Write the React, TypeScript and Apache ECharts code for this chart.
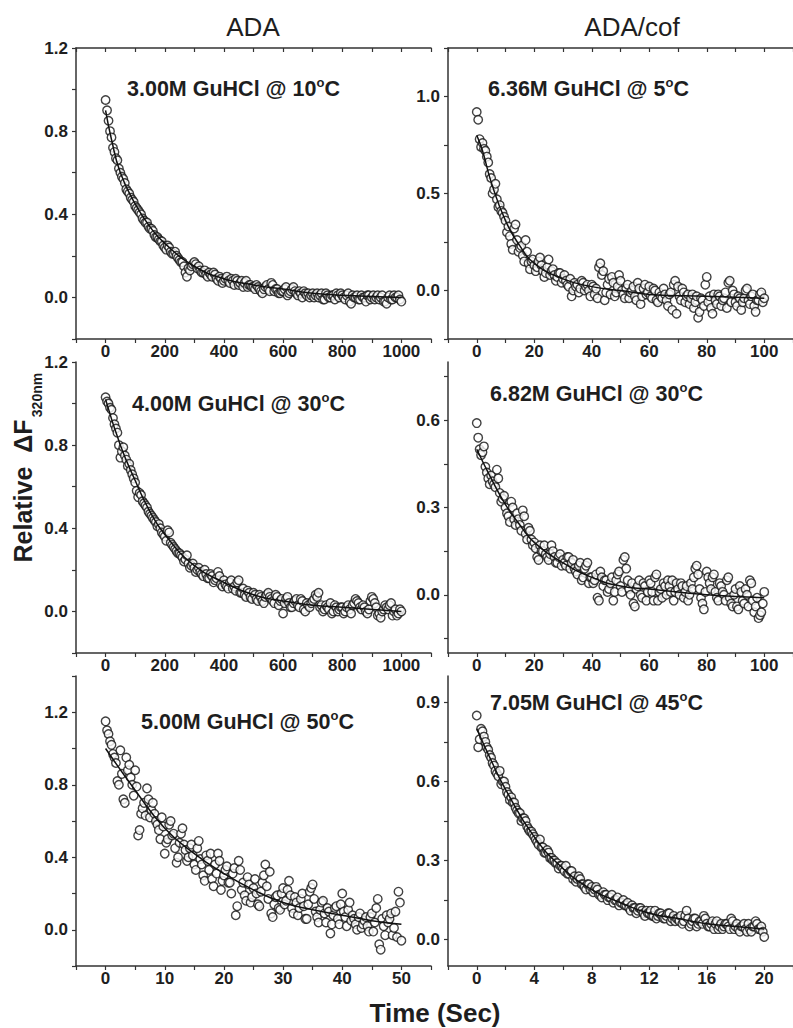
import React, { useEffect, useRef } from "react";
import * as echarts from "echarts";

// ---------------- DATA ----------------
// Each trace is read as two interleaved sample sets (t = i*step and t = (i+0.5)*step).

// Panel A: ADA, 3.00M GuHCl @ 10°C  (0..1000 s)
const adaT1Step = 10;
const adaT1 = [
  0.95, 0.85, 0.77, 0.70, 0.66, 0.60, 0.57, 0.52, 0.50, 0.47,
  0.44, 0.42, 0.40, 0.37, 0.36, 0.33, 0.32, 0.29, 0.28, 0.27,
  0.24, 0.25, 0.22, 0.21, 0.20, 0.18, 0.17, 0.12, 0.14, 0.15,
  0.17, 0.14, 0.13, 0.12, 0.11, 0.12, 0.10, 0.11, 0.08, 0.09,
  0.08, 0.10, 0.07, 0.08, 0.09, 0.06, 0.08, 0.07, 0.05, 0.06,
  0.05, 0.06, 0.04, 0.02, 0.05, 0.04, 0.07, 0.03, 0.04, 0.02,
  0.03, 0.05, 0.02, 0.04, 0.03, 0.01, 0.02, 0.03, 0.01, 0.00,
  0.02, 0.01, 0.00, 0.02, -0.01, 0.01, 0.00, 0.01, 0.02, 0.00,
  0.01, -0.01, 0.02, -0.03, 0.00, 0.01, -0.01, 0.00, -0.02, 0.01,
  0.00, -0.01, 0.01, 0.00, -0.02, -0.03, 0.01, -0.01, 0.00, 0.01,
  -0.02,
];
const adaT1b = [
  0.90, 0.80, 0.72, 0.67, 0.62, 0.58, 0.55, 0.51, 0.48, 0.46,
  0.43, 0.41, 0.38, 0.36, 0.34, 0.33, 0.30, 0.29, 0.27, 0.25,
  0.23, 0.24, 0.21, 0.22, 0.19, 0.17, 0.15, 0.10, 0.13, 0.16,
  0.16, 0.15, 0.12, 0.13, 0.10, 0.11, 0.12, 0.09, 0.10, 0.07,
  0.09, 0.08, 0.09, 0.06, 0.08, 0.07, 0.05, 0.08, 0.06, 0.05,
  0.04, 0.05, 0.03, 0.04, 0.06, 0.03, 0.06, 0.04, 0.02, 0.03,
  0.04, 0.01, 0.03, 0.05, 0.02, 0.03, 0.00, 0.02, 0.02, 0.01,
  0.00, 0.02, 0.01, -0.01, 0.02, 0.00, 0.01, -0.01, 0.01, 0.02,
  0.00, 0.01, -0.02, 0.01, 0.00, -0.01, 0.01, 0.00, 0.01, -0.01,
  0.01, 0.00, -0.01, 0.01, -0.02, 0.00, -0.01, 0.01, 0.00, -0.01,
];
const adaT1FitT = [0, 20, 50, 100, 150, 200, 300, 400, 500, 600, 700, 800, 1000];
const adaT1FitY = [0.9, 0.76, 0.6, 0.45, 0.34, 0.26, 0.15, 0.09, 0.06, 0.04, 0.02, 0.01, 0.0];

// Panel B: ADA/cof, 6.36M GuHCl @ 5°C (0..100 s)
const cofT1Step = 1;
const cofT1 = [
  0.92, 0.78, 0.76, 0.72, 0.66, 0.58, 0.52, 0.47, 0.44, 0.40,
  0.36, 0.33, 0.24, 0.32, 0.26, 0.22, 0.18, 0.26, 0.14, 0.15,
  0.13, 0.12, 0.17, 0.10, 0.09, 0.16, 0.10, 0.08, 0.07, 0.09,
  0.06, 0.05, 0.02, -0.03, 0.04, 0.03, 0.01, 0.04, 0.02, 0.00,
  0.03, -0.02, -0.04, 0.14, 0.10, -0.01, 0.06, 0.07, -0.03, 0.02,
  0.05, -0.02, 0.01, -0.04, 0.00, -0.03, 0.04, -0.07, 0.01, -0.02,
  0.02, -0.04, 0.00, -0.06, -0.03, 0.01, -0.05, -0.02, -0.10, 0.05,
  0.02, -0.05, -0.01, -0.03, -0.07, -0.02, -0.06, -0.14, -0.04, -0.08,
  0.07, -0.03, -0.12, -0.05, -0.02, -0.08, -0.04, -0.09, 0.05, 0.00,
  -0.06, -0.03, -0.10, -0.04, 0.01, -0.07, -0.02, -0.11, -0.05, -0.01,
  -0.04,
];
const cofT1b = [
  0.88, 0.74, 0.73, 0.69, 0.60, 0.50, 0.55, 0.43, 0.41, 0.38,
  0.30, 0.28, 0.21, 0.34, 0.20, 0.23, 0.15, 0.20, 0.11, 0.16,
  0.10, 0.15, 0.13, 0.07, 0.12, 0.08, 0.11, 0.05, 0.09, 0.04,
  0.08, 0.03, 0.06, 0.00, 0.02, -0.01, 0.05, 0.00, 0.03, -0.03,
  0.02, 0.01, 0.12, 0.08, -0.05, 0.03, -0.02, 0.04, -0.01, 0.08,
  0.00, -0.04, 0.03, -0.01, 0.02, -0.05, 0.01, -0.03, 0.03, -0.01,
  -0.03, 0.01, -0.05, -0.01, -0.04, -0.02, -0.08, -0.01, 0.03, -0.12,
  -0.03, 0.01, -0.06, -0.02, -0.04, -0.09, -0.03, -0.11, -0.05, 0.03,
  -0.06, -0.09, -0.02, -0.07, -0.03, -0.05, -0.01, 0.04, -0.06, -0.02,
  -0.08, -0.04, -0.06, 0.00, -0.05, -0.03, -0.08, -0.05, -0.02, -0.06,
];
const cofT1FitT = [0, 2, 5, 10, 15, 20, 30, 40, 50, 60, 80, 100];
const cofT1FitY = [0.8, 0.72, 0.56, 0.36, 0.23, 0.14, 0.06, 0.02, 0.0, -0.02, -0.03, -0.04];

// Panel C: ADA, 4.00M GuHCl @ 30°C (0..1000 s)
const adaT2Step = 10;
const adaT2 = [
  1.03, 1.00, 0.97, 0.90, 0.86, 0.74, 0.79, 0.73, 0.71, 0.66,
  0.62, 0.55, 0.56, 0.52, 0.50, 0.47, 0.45, 0.43, 0.42, 0.38,
  0.36, 0.39, 0.33, 0.31, 0.29, 0.28, 0.26, 0.25, 0.23, 0.22,
  0.21, 0.20, 0.19, 0.17, 0.18, 0.16, 0.17, 0.15, 0.19, 0.13,
  0.15, 0.12, 0.14, 0.11, 0.10, 0.15, 0.09, 0.08, 0.10, 0.07,
  0.09, 0.06, 0.08, 0.05, 0.07, 0.09, 0.06, 0.04, 0.07, 0.05,
  -0.01, 0.06, 0.04, 0.02, 0.05, 0.03, 0.06, 0.01, 0.04, 0.02,
  0.05, 0.08, 0.09, 0.03, 0.01, 0.02, 0.04, 0.00, 0.02, 0.01,
  0.02, 0.00, 0.03, -0.01, 0.04, 0.05, 0.02, 0.03, 0.00, 0.01,
  0.07, 0.04, -0.02, -0.03, 0.01, 0.02, 0.03, -0.02, 0.01, -0.01,
  0.00,
];
const adaT2b = [
  1.01, 0.98, 0.93, 0.88, 0.80, 0.77, 0.75, 0.70, 0.68, 0.64,
  0.58, 0.57, 0.53, 0.51, 0.48, 0.46, 0.44, 0.41, 0.40, 0.37,
  0.34, 0.38, 0.32, 0.30, 0.28, 0.27, 0.24, 0.27, 0.21, 0.23,
  0.19, 0.21, 0.18, 0.20, 0.16, 0.18, 0.14, 0.16, 0.17, 0.12,
  0.13, 0.11, 0.15, 0.12, 0.14, 0.09, 0.11, 0.07, 0.09, 0.06,
  0.08, 0.05, 0.07, 0.04, 0.08, 0.07, 0.05, 0.08, 0.03, 0.06,
  0.04, 0.07, 0.02, 0.04, 0.06, 0.02, 0.05, 0.00, 0.03, 0.04,
  0.06, 0.07, 0.02, 0.00, 0.03, 0.01, -0.01, 0.03, 0.00, 0.02,
  -0.01, 0.02, 0.01, 0.03, 0.06, 0.04, 0.01, 0.02, -0.01, 0.05,
  0.06, 0.02, -0.01, 0.00, 0.03, 0.01, 0.04, 0.00, -0.02, 0.01,
];
const adaT2FitT = [0, 50, 100, 150, 200, 300, 400, 500, 600, 700, 800, 1000];
const adaT2FitY = [1.02, 0.8, 0.63, 0.48, 0.37, 0.22, 0.14, 0.08, 0.05, 0.03, 0.02, 0.0];

// Panel D: ADA/cof, 6.82M GuHCl @ 30°C (0..100 s)
const cofT2Step = 1;
const cofT2 = [
  0.59, 0.50, 0.49, 0.44, 0.40, 0.41, 0.38, 0.43, 0.35, 0.33,
  0.30, 0.27, 0.32, 0.26, 0.28, 0.24, 0.29, 0.21, 0.23, 0.19,
  0.18, 0.13, 0.17, 0.15, 0.14, 0.12, 0.17, 0.13, 0.11, 0.14,
  0.12, 0.10, 0.13, 0.11, 0.09, 0.07, 0.11, 0.06, 0.10, 0.04,
  0.06, 0.05, -0.01, 0.08, 0.03, 0.05, 0.02, 0.06, 0.01, 0.07,
  0.03, 0.12, 0.09, 0.02, 0.04, -0.04, 0.03, 0.00, 0.04, -0.02,
  0.05, 0.01, 0.06, -0.02, 0.02, 0.04, 0.00, 0.03, 0.05, 0.01,
  0.02, 0.04, -0.01, 0.03, 0.00, 0.02, 0.09, 0.07, -0.01, -0.05,
  0.08, 0.04, 0.06, 0.01, -0.02, 0.03, 0.00, 0.05, -0.01, -0.04,
  0.02, -0.05, 0.01, -0.03, 0.00, 0.05, -0.02, -0.04, -0.08, -0.06,
  0.01,
];
const cofT2b = [
  0.54, 0.48, 0.51, 0.42, 0.38, 0.39, 0.37, 0.40, 0.32, 0.34,
  0.28, 0.25, 0.30, 0.24, 0.26, 0.22, 0.27, 0.19, 0.22, 0.17,
  0.16, 0.12, 0.15, 0.17, 0.13, 0.14, 0.15, 0.11, 0.13, 0.10,
  0.11, 0.13, 0.09, 0.12, 0.08, 0.10, 0.05, 0.09, 0.11, 0.06,
  0.04, 0.07, -0.02, 0.06, 0.05, 0.01, 0.04, -0.02, 0.05, 0.08,
  0.01, 0.13, 0.05, 0.00, -0.03, 0.02, 0.05, -0.01, 0.03, 0.01,
  0.04, -0.02, 0.07, 0.01, -0.01, 0.03, 0.05, 0.01, -0.02, 0.04,
  0.00, 0.03, 0.01, -0.02, 0.04, 0.06, 0.10, 0.02, -0.03, 0.01,
  0.06, 0.02, 0.07, -0.01, 0.04, 0.01, -0.02, 0.06, -0.03, 0.00,
  -0.04, 0.03, -0.02, 0.02, -0.04, 0.04, -0.06, -0.01, -0.07, -0.03,
];
const cofT2FitT = [0, 5, 10, 15, 20, 30, 40, 50, 60, 80, 100];
const cofT2FitY = [0.5, 0.4, 0.31, 0.24, 0.18, 0.11, 0.06, 0.03, 0.02, 0.0, -0.01];

// Panel E: ADA, 5.00M GuHCl @ 50°C (0..50 s)
const adaT3Step = 0.5;
const adaT3 = [
  1.15, 1.08, 1.02, 0.95, 0.82, 0.99, 0.72, 0.95, 0.91, 0.80,
  0.88, 0.52, 0.64, 0.70, 0.78, 0.62, 0.70, 0.60, 0.55, 0.62,
  0.42, 0.50, 0.60, 0.53, 0.37, 0.48, 0.56, 0.44, 0.40, 0.47,
  0.36, 0.45, 0.39, 0.30, 0.41, 0.33, 0.28, 0.36, 0.42, 0.22,
  0.30, 0.35, 0.26, 0.31, 0.08, 0.38, 0.22, 0.19, 0.29, 0.15,
  0.23, 0.20, 0.13, 0.26, 0.36, 0.17, 0.09, 0.14, 0.19, 0.11,
  0.23, 0.16, 0.27, 0.12, 0.18, 0.08, 0.17, 0.13, 0.06, 0.21,
  0.25, 0.10, 0.04, 0.15, 0.09, 0.12, -0.02, 0.08, 0.13, 0.03,
  0.20, 0.07, 0.11, 0.05, 0.06, 0.00, 0.09, 0.03, 0.07, -0.01,
  0.09, 0.04, 0.17, -0.11, 0.02, 0.08, 0.06, -0.03, 0.10, 0.21,
  -0.06,
];
const adaT3b = [
  1.10, 1.04, 0.97, 0.92, 0.80, 0.86, 0.70, 0.88, 0.84, 0.74,
  0.79, 0.55, 0.67, 0.63, 0.72, 0.66, 0.64, 0.58, 0.50, 0.57,
  0.48, 0.58, 0.52, 0.45, 0.40, 0.53, 0.47, 0.38, 0.45, 0.41,
  0.33, 0.49, 0.36, 0.27, 0.38, 0.42, 0.24, 0.31, 0.38, 0.27,
  0.33, 0.26, 0.20, 0.34, 0.13, 0.33, 0.26, 0.16, 0.25, 0.18,
  0.28, 0.14, 0.21, 0.30, 0.24, 0.32, 0.07, 0.18, 0.12, 0.20,
  0.14, 0.22, 0.19, 0.09, 0.15, 0.12, 0.20, 0.06, 0.14, 0.23,
  0.17, 0.07, 0.11, 0.16, 0.04, 0.10, 0.03, 0.12, 0.06, 0.14,
  0.10, 0.02, 0.15, 0.08, 0.03, 0.07, 0.01, 0.05, 0.02, 0.07,
  -0.01, 0.12, -0.08, 0.06, -0.03, 0.04, 0.09, 0.01, -0.04, 0.15,
];
const adaT3FitT = [0, 5, 10, 15, 20, 25, 30, 35, 40, 45, 50];
const adaT3FitY = [1.0, 0.77, 0.56, 0.42, 0.31, 0.22, 0.15, 0.11, 0.08, 0.05, 0.03];

// Panel F: ADA/cof, 7.05M GuHCl @ 45°C (0..20 s)
const cofT3Step = 0.2;
const cofT3 = [
  0.85, 0.76, 0.79, 0.75, 0.72, 0.69, 0.66, 0.63, 0.64, 0.60,
  0.58, 0.55, 0.54, 0.52, 0.49, 0.48, 0.46, 0.45, 0.42, 0.41,
  0.39, 0.37, 0.38, 0.35, 0.33, 0.33, 0.31, 0.30, 0.29, 0.28,
  0.27, 0.28, 0.25, 0.26, 0.24, 0.23, 0.23, 0.21, 0.19, 0.21,
  0.20, 0.19, 0.19, 0.17, 0.18, 0.17, 0.16, 0.17, 0.15, 0.16,
  0.14, 0.15, 0.13, 0.12, 0.13, 0.12, 0.11, 0.12, 0.10, 0.11,
  0.10, 0.09, 0.11, 0.09, 0.10, 0.08, 0.09, 0.10, 0.08, 0.07,
  0.08, 0.09, 0.07, 0.11, 0.05, 0.07, 0.08, 0.06, 0.07, 0.09,
  0.06, 0.05, 0.07, 0.06, 0.04, 0.06, 0.05, 0.06, 0.04, 0.07,
  0.05, 0.04, 0.05, 0.06, 0.03, 0.04, 0.05, 0.07, 0.04, 0.05,
  0.01,
];
const cofT3b = [
  0.73, 0.80, 0.77, 0.73, 0.70, 0.67, 0.64, 0.62, 0.59, 0.60,
  0.56, 0.53, 0.52, 0.50, 0.48, 0.45, 0.46, 0.43, 0.41, 0.40,
  0.38, 0.36, 0.35, 0.33, 0.34, 0.31, 0.30, 0.29, 0.27, 0.28,
  0.26, 0.25, 0.26, 0.23, 0.22, 0.24, 0.21, 0.20, 0.21, 0.19,
  0.18, 0.20, 0.17, 0.16, 0.17, 0.15, 0.16, 0.14, 0.15, 0.13,
  0.14, 0.13, 0.14, 0.11, 0.12, 0.10, 0.12, 0.11, 0.09, 0.10,
  0.11, 0.09, 0.08, 0.10, 0.09, 0.08, 0.10, 0.07, 0.09, 0.08,
  0.07, 0.06, 0.09, 0.08, 0.06, 0.08, 0.05, 0.07, 0.06, 0.08,
  0.05, 0.06, 0.04, 0.07, 0.05, 0.04, 0.06, 0.05, 0.08, 0.04,
  0.06, 0.03, 0.05, 0.04, 0.06, 0.03, 0.05, 0.06, 0.04, 0.03,
];
const cofT3FitT = [0, 1, 2, 4, 6, 8, 10, 12, 14, 16, 18, 20];
const cofT3FitY = [0.8, 0.68, 0.57, 0.39, 0.27, 0.19, 0.14, 0.1, 0.08, 0.06, 0.05, 0.04];

// Axis ranges, ticks and labels
const xLong = { min: -100, max: 1100, labels: [0, 200, 400, 600, 800, 1000],
  ticks: [-100, 0, 100, 200, 300, 400, 500, 600, 700, 800, 900, 1000, 1100] };
const x100 = { min: -10, max: 110, labels: [0, 20, 40, 60, 80, 100],
  ticks: [-10, 0, 10, 20, 30, 40, 50, 60, 70, 80, 90, 100, 110] };
const x50 = { min: -5, max: 55, labels: [0, 10, 20, 30, 40, 50],
  ticks: [-5, 0, 5, 10, 15, 20, 25, 30, 35, 40, 45, 50, 55] };
const x20 = { min: -2, max: 22, labels: [0, 4, 8, 12, 16, 20],
  ticks: [-2, 0, 2, 4, 6, 8, 10, 12, 14, 16, 18, 20, 22] };

const yA1 = { min: -0.2, max: 1.2, labels: [0, 0.4, 0.8, 1.2], ticks: [-0.2, 0, 0.2, 0.4, 0.6, 0.8, 1.0, 1.2] };
const yB1 = { min: -0.25, max: 1.25, labels: [0, 0.5, 1.0], ticks: [-0.25, 0, 0.25, 0.5, 0.75, 1.0, 1.25] };
const yA2 = { min: -0.2, max: 1.2, labels: [0, 0.4, 0.8, 1.2], ticks: [-0.2, 0, 0.2, 0.4, 0.6, 0.8, 1.0, 1.2] };
const yB2 = { min: -0.2, max: 0.8, labels: [0, 0.3, 0.6], ticks: [-0.15, 0, 0.15, 0.3, 0.45, 0.6, 0.75] };
const yA3 = { min: -0.2, max: 1.4, labels: [0, 0.4, 0.8, 1.2], ticks: [-0.2, 0, 0.2, 0.4, 0.6, 0.8, 1.0, 1.2, 1.4] };
const yB3 = { min: -0.1, max: 1.0, labels: [0, 0.3, 0.6, 0.9], ticks: [0, 0.15, 0.3, 0.45, 0.6, 0.75, 0.9] };

const panelLabels = [
  ["3.00M GuHCl @ 10", "C"],
  ["6.36M GuHCl @ 5", "C"],
  ["4.00M GuHCl @ 30", "C"],
  ["6.82M GuHCl @ 30", "C"],
  ["5.00M GuHCl @ 50", "C"],
  ["7.05M GuHCl @ 45", "C"],
];
const columnTitles = ["ADA", "ADA/cof"];

// ---------------- LAYOUT ----------------
const FONT = "'Liberation Sans', Arial, Helvetica, sans-serif";
const AX = "#333";
const TXT = "#1e1e1e";

const grids = [
  { left: 76, top: 48, width: 355, height: 291 },
  { left: 448, top: 48, width: 355, height: 291 },
  { left: 76, top: 362, width: 355, height: 291 },
  { left: 448, top: 362, width: 355, height: 291 },
  { left: 76, top: 676, width: 355, height: 290 },
  { left: 448, top: 676, width: 355, height: 290 },
];
const labelPos = [
  [127, 89], [488, 89], [132, 404], [490, 394], [141, 722], [490, 703],
];

function pairs(step: number, ys: number[], offset: number) {
  return ys.map((y, i) => [Math.round((i + offset) * step * 1000) / 1000, y]);
}
function zip(xs: number[], ys: number[]) {
  return xs.map((x, i) => [x, ys[i]]);
}

function xAxisCfg(gi: number, a: any, top = false) {
  return {
    type: "value",
    gridIndex: gi,
    position: top ? "top" : "bottom",
    min: a.min,
    max: a.max,
    axisLine: { show: true, onZero: false, lineStyle: { color: AX, width: 1.5 } },
    axisTick: { show: true, inside: top, length: 4, customValues: a.ticks, lineStyle: { color: AX, width: 1.2 } },
    axisLabel: {
      show: !top,
      customValues: a.labels,
      margin: 4,
      fontSize: 17,
      fontWeight: "bold",
      fontFamily: FONT,
      color: TXT,
      formatter: (v: number) => String(Math.round(v)),
    },
    splitLine: { show: false },
  };
}
function yAxisCfg(gi: number, a: any) {
  return {
    type: "value",
    gridIndex: gi,
    position: "left",
    min: a.min,
    max: a.max,
    axisLine: { show: true, onZero: false, lineStyle: { color: AX, width: 1.5 } },
    axisTick: { show: true, inside: false, length: 4, customValues: a.ticks, lineStyle: { color: AX, width: 1.2 } },
    axisLabel: {
      customValues: a.labels,
      margin: 8,
      fontSize: 17,
      fontWeight: "bold",
      fontFamily: FONT,
      color: TXT,
      formatter: (v: number) => v.toFixed(1),
    },
    splitLine: { show: false },
  };
}

export default function App() {
  const ref = useRef<HTMLDivElement>(null);
  useEffect(() => {
    document.body.style.margin = "0";
    if (!ref.current) return;
    const chart = echarts.init(ref.current, undefined, { renderer: "svg" });

    const xs = [xLong, x100, xLong, x100, x50, x20];
    const ys = [yA1, yB1, yA2, yB2, yA3, yB3];
    const scatterData = [
      pairs(adaT1Step, adaT1, 0).concat(pairs(adaT1Step, adaT1b, 0.5)),
      pairs(cofT1Step, cofT1, 0).concat(pairs(cofT1Step, cofT1b, 0.5)),
      pairs(adaT2Step, adaT2, 0).concat(pairs(adaT2Step, adaT2b, 0.5)),
      pairs(cofT2Step, cofT2, 0).concat(pairs(cofT2Step, cofT2b, 0.5)),
      pairs(adaT3Step, adaT3, 0).concat(pairs(adaT3Step, adaT3b, 0.5)),
      pairs(cofT3Step, cofT3, 0).concat(pairs(cofT3Step, cofT3b, 0.5)),
    ].map((arr) => arr.sort((a, b) => a[0] - b[0]));
    const fitData = [
      zip(adaT1FitT, adaT1FitY),
      zip(cofT1FitT, cofT1FitY),
      zip(adaT2FitT, adaT2FitY),
      zip(cofT2FitT, cofT2FitY),
      zip(adaT3FitT, adaT3FitY),
      zip(cofT3FitT, cofT3FitY),
    ];

    const xAxes: any[] = xs.map((a, i) => xAxisCfg(i, a));
    xAxes.push(xAxisCfg(0, xLong, true));
    xAxes.push(xAxisCfg(1, x100, true));
    const yAxes = ys.map((a, i) => yAxisCfg(i, a));

    const series: any[] = [];
    for (let i = 0; i < 6; i++) {
      series.push({
        type: "scatter",
        xAxisIndex: i,
        yAxisIndex: i,
        data: scatterData[i],
        symbol: "circle",
        symbolSize: 8.5,
        itemStyle: { color: "#ffffff", borderColor: "#111", borderWidth: 1.4 },
        z: 2,
      });
      series.push({
        type: "line",
        xAxisIndex: i,
        yAxisIndex: i,
        data: fitData[i],
        smooth: true,
        showSymbol: false,
        symbol: "none",
        lineStyle: { color: "#111", width: 1.5 },
        z: 3,
      });
    }

    const graphics: any[] = [];
    panelLabels.forEach((p, i) => {
      graphics.push({
        type: "text",
        x: labelPos[i][0],
        y: labelPos[i][1],
        style: {
          text: `{n|${p[0]}}{s|o}{n|${p[1]}}`,
          align: "left",
          verticalAlign: "middle",
          rich: {
            n: { fontSize: 21.5, lineHeight: 27, fontWeight: "bold", fontFamily: FONT, fill: TXT },
            s: { fontSize: 13, lineHeight: 13, fontWeight: "bold", fontFamily: FONT, fill: TXT, verticalAlign: "top" },
          },
        },
      });
    });
    graphics.push({
      type: "text", x: 253, y: 27,
      style: { text: columnTitles[0], fontSize: 26, fontFamily: FONT, fill: TXT, align: "center", verticalAlign: "middle" },
    });
    graphics.push({
      type: "text", x: 632, y: 27,
      style: { text: columnTitles[1], fontSize: 26, fontFamily: FONT, fill: TXT, align: "center", verticalAlign: "middle" },
    });
    graphics.push({
      type: "text", x: 435, y: 1013,
      style: { text: "Time (Sec)", fontSize: 26, fontWeight: "bold", fontFamily: FONT, fill: TXT, align: "center", verticalAlign: "middle" },
    });
    graphics.push({
      type: "text", x: 23, y: 491, rotation: Math.PI / 2,
      style: { text: "Relative  ΔF", fontSize: 25, fontWeight: "bold", fontFamily: FONT, fill: TXT, align: "center", verticalAlign: "middle" },
    });
    graphics.push({
      type: "text", x: 37, y: 395, rotation: Math.PI / 2,
      style: { text: "320nm", fontSize: 14, fontWeight: "bold", fontFamily: FONT, fill: TXT, align: "center", verticalAlign: "middle" },
    });

    chart.setOption({
      animation: false,
      backgroundColor: "#ffffff",
      grid: grids.map((g) => ({ ...g, containLabel: false })),
      xAxis: xAxes,
      yAxis: yAxes,
      series,
      graphic: graphics,
    });
    return () => chart.dispose();
  }, []);
  return <div ref={ref} style={{ width: 793, height: 1028 }} />;
}
